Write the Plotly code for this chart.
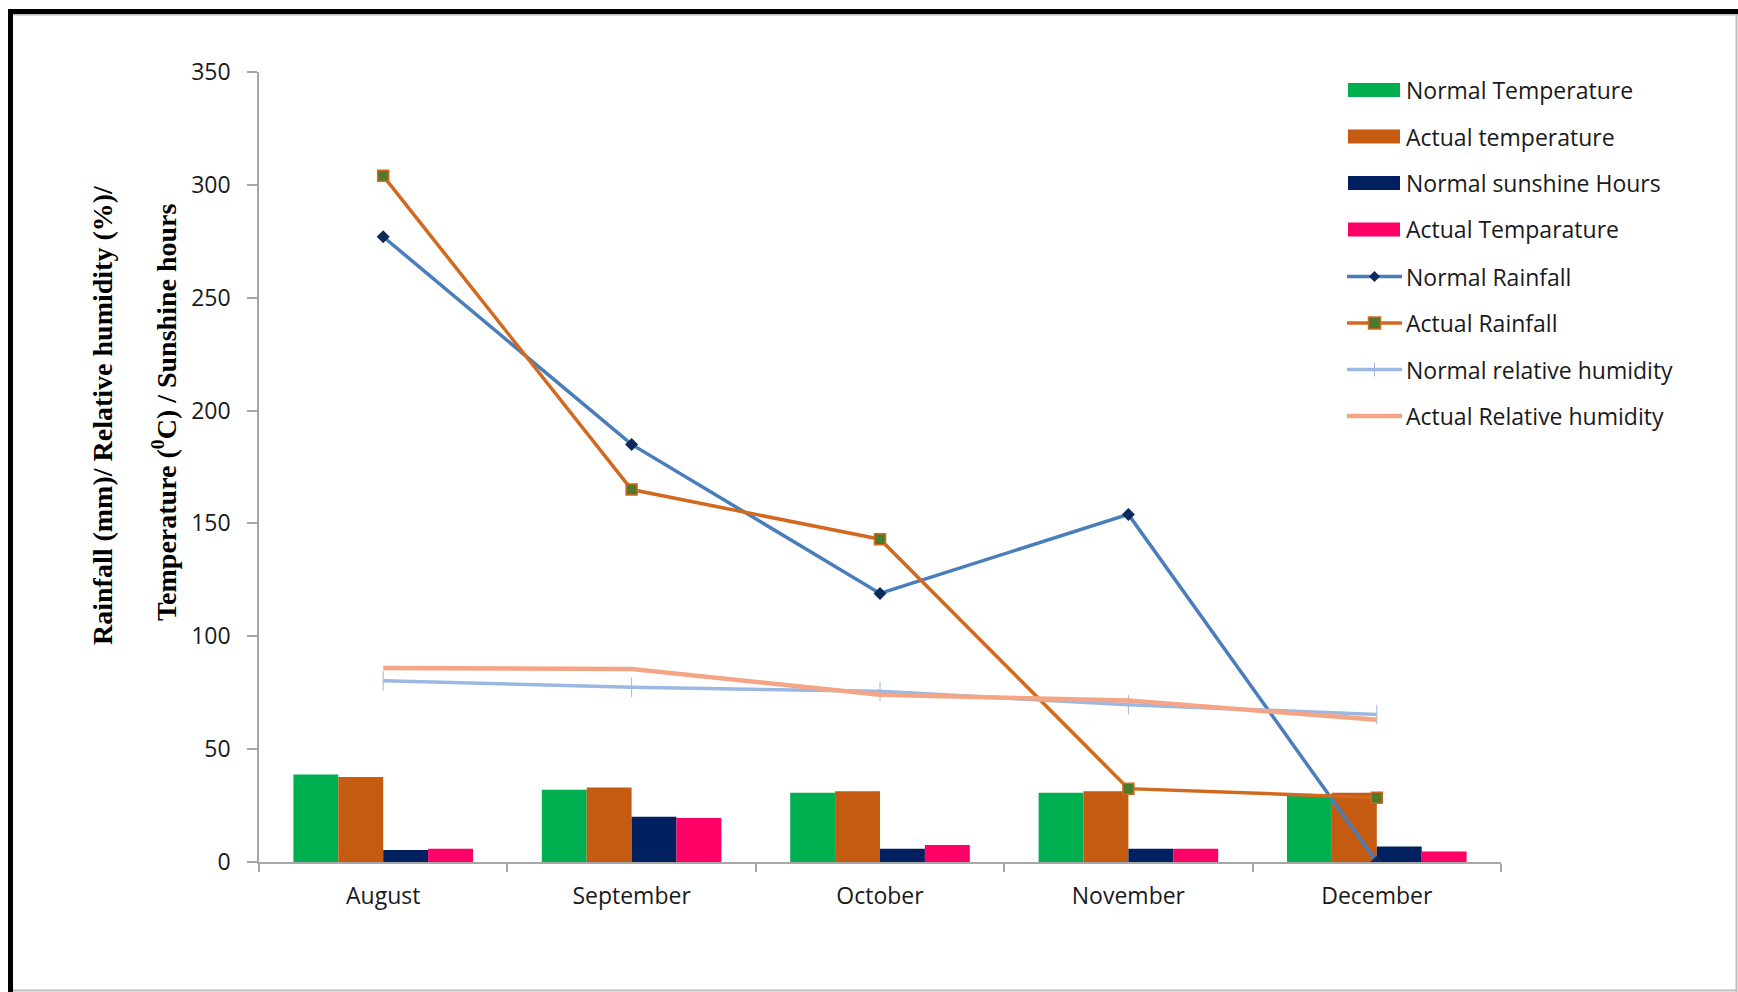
import plotly.graph_objects as go

# ---- data -------------------------------------------------------------
months = ["August", "September", "October", "November", "December"]

normal_temperature = [38.8, 32.0, 30.7, 30.7, 29.9]
actual_temperature = [37.7, 33.0, 31.3, 31.3, 30.7]
normal_sunshine_hours = [5.3, 20.1, 5.9, 5.9, 6.9]
actual_temparature = [5.9, 19.5, 7.5, 5.9, 4.6]

normal_rainfall = [277, 185, 119, 154, 0]
actual_rainfall = [304, 165, 143, 32.5, 28.5]

normal_relative_humidity = [80.3, 77.4, 75.6, 69.7, 65.3]
actual_relative_humidity = [86.0, 85.5, 74.1, 71.5, 63.0]

y_ticks = [0, 50, 100, 150, 200, 250, 300, 350]

# ---- styling ----------------------------------------------------------
W, H = 1738, 992
L, R, T, B = 259, 237, 72, 130
PW, PH = W - L - R, H - T - B

LABEL_FONT = "Open Sans"
AXIS_GREY = "#A6A6A6"

C_GREEN = "#00B050"
C_ORANGE = "#C55A11"
C_NAVY = "#002060"
C_PINK = "#FF0066"
C_RAIN_N = "#4A7EBB"
C_RAIN_N_MK = "#0E2A5C"
C_RAIN_A = "#D2691E"
C_RAIN_A_MK = "#4E7A2E"
C_RH_N = "#9BB8E2"
C_RH_A = "#F4A585"


def px(x):
    return (x - L) / PW


def py(y):
    return (H - B - y) / PH


fig = go.Figure()

bar_series = [
    ("Normal Temperature", normal_temperature, C_GREEN),
    ("Actual temperature", actual_temperature, C_ORANGE),
    ("Normal sunshine Hours", normal_sunshine_hours, C_NAVY),
    ("Actual Temparature", actual_temparature, C_PINK),
]
for name, vals, col in bar_series:
    fig.add_trace(go.Bar(
        x=months, y=vals, name=name,
        marker=dict(color=col, line=dict(width=0)),
        showlegend=False,
    ))

fig.add_trace(go.Scatter(
    x=months, y=normal_rainfall, name="Normal Rainfall", mode="lines+markers",
    line=dict(color=C_RAIN_N, width=3.5),
    marker=dict(symbol="diamond", size=10, color=C_RAIN_N_MK),
    showlegend=False,
))
fig.add_trace(go.Scatter(
    x=months, y=actual_rainfall, name="Actual Rainfall", mode="lines+markers",
    line=dict(color=C_RAIN_A, width=3.5),
    marker=dict(symbol="square", size=11, color=C_RAIN_A_MK,
                line=dict(color=C_RAIN_A, width=1.5)),
    showlegend=False,
))
fig.add_trace(go.Scatter(
    x=months, y=normal_relative_humidity, name="Normal relative humidity",
    mode="lines+markers",
    line=dict(color=C_RH_N, width=3.5),
    marker=dict(symbol="line-ns", size=14, color=C_RH_N,
                line=dict(color=C_RH_N, width=1)),
    showlegend=False,
))
fig.add_trace(go.Scatter(
    x=months, y=actual_relative_humidity, name="Actual Relative humidity",
    mode="lines",
    line=dict(color=C_RH_A, width=4.5),
    showlegend=False,
))

# ---- legend (drawn as shapes + text) ---------------------------------
shapes = []
annotations = []
legend_rows = [90, 136.5, 183, 229.5, 276.5, 323, 369.5, 416]
sym_x0, sym_x1 = 1348, 1400
text_x = 1404

for (name, _, col), yc in zip(bar_series, legend_rows[:4]):
    shapes.append(dict(type="rect", xref="paper", yref="paper",
                       x0=px(sym_x0), x1=px(sym_x1),
                       y0=py(yc - 7), y1=py(yc + 7),
                       fillcolor=col, line=dict(width=0), layer="above"))

line_items = [
    ("Normal Rainfall", C_RAIN_N, 3.5, "diamond"),
    ("Actual Rainfall", C_RAIN_A, 3.5, "square"),
    ("Normal relative humidity", C_RH_N, 3.5, "plus"),
    ("Actual Relative humidity", C_RH_A, 4.5, None),
]
for (name, col, lw, mk), yc in zip(line_items, legend_rows[4:]):
    shapes.append(dict(type="line", xref="paper", yref="paper",
                       x0=px(1347), x1=px(1402), y0=py(yc), y1=py(yc),
                       line=dict(color=col, width=lw), layer="above"))
    cx = 1374.5
    if mk == "diamond":
        path = "M {},{} L {},{} L {},{} L {},{} Z".format(
            px(cx), py(yc - 5.5), px(cx + 5.5), py(yc),
            px(cx), py(yc + 5.5), px(cx - 5.5), py(yc))
        shapes.append(dict(type="path", xref="paper", yref="paper", path=path,
                           fillcolor=C_RAIN_N_MK, line=dict(width=0),
                           layer="above"))
    elif mk == "square":
        shapes.append(dict(type="rect", xref="paper", yref="paper",
                           x0=px(cx - 6), x1=px(cx + 6),
                           y0=py(yc + 6), y1=py(yc - 6),
                           fillcolor=C_RAIN_A_MK,
                           line=dict(color=C_RAIN_A, width=1.5),
                           layer="above"))
    elif mk == "plus":
        shapes.append(dict(type="line", xref="paper", yref="paper",
                           x0=px(cx), x1=px(cx), y0=py(yc - 7), y1=py(yc + 7),
                           line=dict(color=col, width=1), layer="above"))

all_names = [s[0] for s in bar_series] + [s[0] for s in line_items]
for name, yc in zip(all_names, legend_rows):
    annotations.append(dict(
        xref="paper", yref="paper", x=px(text_x), y=py(yc),
        xanchor="left", yanchor="middle", showarrow=False, text=name,
        font=dict(family=LABEL_FONT, size=23, color="#1A1A1A"),
    ))

# ---- y axis title (two rotated lines) ---------------------------------
annotations.append(dict(
    xref="paper", yref="paper", x=px(102), y=py(415), textangle=-90,
    xanchor="center", yanchor="middle", showarrow=False,
    text="<b>Rainfall (mm)/ Relative humidity (%)/</b>",
    font=dict(family="Liberation Serif", size=28, color="#000000"),
))
annotations.append(dict(
    xref="paper", yref="paper", x=px(165), y=py(412), textangle=-90,
    xanchor="center", yanchor="middle", showarrow=False,
    text="<b>Temperature (<sup>0</sup>C) / Sunshine hours</b>",
    font=dict(family="Liberation Serif", size=28, color="#000000"),
))

# ---- outer frame -------------------------------------------------------
shapes += [
    dict(type="rect", xref="paper", yref="paper",
         x0=px(8), x1=px(1738), y0=py(9), y1=py(14),
         fillcolor="#000000", line=dict(width=0), layer="above"),
    dict(type="rect", xref="paper", yref="paper",
         x0=px(8), x1=px(13), y0=py(9), y1=py(992),
         fillcolor="#000000", line=dict(width=0), layer="above"),
    dict(type="line", xref="paper", yref="paper",
         x0=px(13), x1=px(1738), y0=py(14.8), y1=py(14.8),
         line=dict(color="#BDBDBD", width=1.5), layer="above"),
    dict(type="line", xref="paper", yref="paper",
         x0=px(1736.5), x1=px(1736.5), y0=py(14), y1=py(992),
         line=dict(color="#BDBDBD", width=2), layer="above"),
    dict(type="line", xref="paper", yref="paper",
         x0=px(13), x1=px(1737), y0=py(990.5), y1=py(990.5),
         line=dict(color="#BDBDBD", width=2), layer="above"),
]

fig.update_layout(
    width=W, height=H,
    margin=dict(l=L, r=R, t=T, b=B, pad=0),
    paper_bgcolor="white", plot_bgcolor="white",
    barmode="group", bargap=0.277, bargroupgap=0,
    showlegend=False,
    shapes=shapes, annotations=annotations,
    xaxis=dict(
        type="category", categoryorder="array", categoryarray=months,
        range=[-0.5, 4.5], showgrid=False, zeroline=False,
        showline=True, linecolor=AXIS_GREY, linewidth=1.5,
        ticks="outside", tickson="boundaries", ticklen=8,
        tickcolor=AXIS_GREY, tickwidth=1.5,
        tickfont=dict(family=LABEL_FONT, size=23, color="#1A1A1A"),
        ticklabelstandoff=13,
    ),
    yaxis=dict(
        range=[0, 350], tickvals=y_ticks, showgrid=False, zeroline=False,
        showline=True, linecolor=AXIS_GREY, linewidth=1.5,
        ticks="outside", ticklen=10, tickcolor=AXIS_GREY, tickwidth=1.5,
        tickfont=dict(family=LABEL_FONT, size=23, color="#1A1A1A"),
        ticklabelstandoff=12,
    ),
)

fig.write_html("out.html")
